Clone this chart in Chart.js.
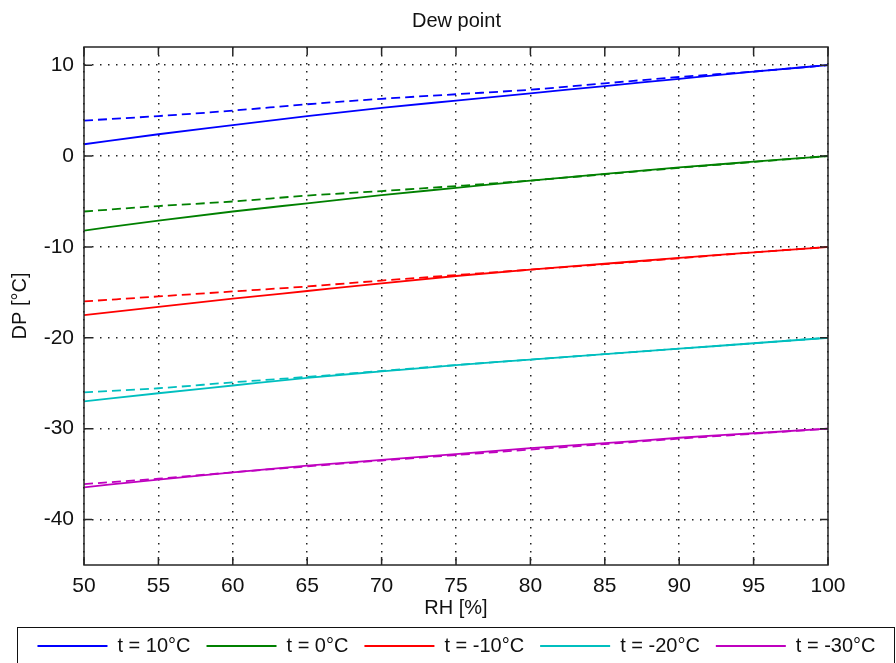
<!DOCTYPE html>
<html>
<head>
<meta charset="utf-8">
<title>Dew point</title>
<script src="https://cdn.jsdelivr.net/npm/chart.js@4.4.1/dist/chart.umd.min.js"></script>
<style>
  html, body { margin: 0; padding: 0; background: #fff; }
  #wrap { width: 896px; height: 663px; }
</style>
</head>
<body>
<div id="wrap"><canvas id="chart"></canvas></div>
<script>
// RH (%) along x, ticks of both axes
const rh = [50, 55, 60, 65, 70, 75, 80, 85, 90, 95, 100];
const xTicks = [50, 55, 60, 65, 70, 75, 80, 85, 90, 95, 100];
const yTicks = [-40, -30, -20, -10, 0, 10];

const labels = ['t = 10°C', 't = 0°C', 't = -10°C', 't = -20°C', 't = -30°C'];
const colors = ['#0000ff', '#008000', '#ff0000', '#00bfbf', '#bf00bf'];

// solid lines (dew point)
const dp10  = [1.3, 2.4, 3.4, 4.4, 5.3, 6.1, 6.9, 7.7, 8.5, 9.3, 10.0];
const dp0   = [-8.2, -7.1, -6.1, -5.2, -4.3, -3.5, -2.7, -1.95, -1.25, -0.62, 0];
const dpM10 = [-17.5, -16.6, -15.7, -14.85, -14.0, -13.2, -12.5, -11.85, -11.2, -10.6, -10.0];
const dpM20 = [-27.0, -26.1, -25.25, -24.4, -23.7, -23.0, -22.4, -21.8, -21.2, -20.6, -20.0];
const dpM30 = [-36.45, -35.6, -34.8, -34.06, -33.44, -32.8, -32.15, -31.6, -31.0, -30.5, -30.0];

// dashed lines (approximation)
const ap10  = [3.9, 4.4, 5.0, 5.7, 6.3, 6.8, 7.3, 8.0, 8.7, 9.3, 10.0];
const ap0   = [-6.1, -5.5, -5.0, -4.35, -3.85, -3.3, -2.7, -2.0, -1.3, -0.65, 0];
const apM10 = [-16.0, -15.45, -14.9, -14.35, -13.7, -13.1, -12.5, -11.9, -11.25, -10.6, -10.0];
const apM20 = [-26.0, -25.55, -24.9, -24.3, -23.65, -23.0, -22.4, -21.8, -21.2, -20.6, -20.0];
const apM30 = [-36.1, -35.5, -34.8, -34.15, -33.5, -32.9, -32.3, -31.7, -31.1, -30.55, -30.0];

const solid = [dp10, dp0, dpM10, dpM20, dpM30];
const dashed = [ap10, ap0, apM10, apM20, apM30];

const FONT = '"Liberation Sans", Arial, sans-serif';

const toXY = (arr) => arr.map((v, i) => ({ x: rh[i], y: v }));

const datasets = [];
solid.forEach((s, i) => {
  datasets.push({
    label: labels[i],
    data: toXY(s),
    borderColor: colors[i],
    backgroundColor: colors[i],
    borderWidth: 1.8,
    pointRadius: 0,
    cubicInterpolationMode: 'monotone',
  });
});
dashed.forEach((s, i) => {
  datasets.push({
    label: labels[i] + ' approx',
    approx: true,
    data: toXY(s),
    borderColor: colors[i],
    backgroundColor: colors[i],
    borderWidth: 1.8,
    borderDash: [9, 5],
    pointRadius: 0,
    cubicInterpolationMode: 'monotone',
  });
});

// box around the axes, inward ticks and the legend frame
const frame = {
  id: 'frame',
  afterDraw(chart) {
    const { ctx, chartArea: a, scales: { x, y } } = chart;
    ctx.save();
    ctx.strokeStyle = '#262626';
    ctx.lineWidth = 1.5;
    ctx.beginPath();
    xTicks.forEach(v => {
      const px = x.getPixelForValue(v);
      ctx.moveTo(px, a.bottom); ctx.lineTo(px, a.bottom - 8);
      ctx.moveTo(px, a.top); ctx.lineTo(px, a.top + 8);
    });
    yTicks.forEach(v => {
      const py = y.getPixelForValue(v);
      ctx.moveTo(a.left, py); ctx.lineTo(a.left + 8, py);
      ctx.moveTo(a.right, py); ctx.lineTo(a.right - 8, py);
    });
    ctx.stroke();
    ctx.strokeRect(a.left, a.top, a.right - a.left, a.bottom - a.top);

    const lg = chart.legend;
    ctx.lineWidth = 1;
    ctx.strokeStyle = '#111';
    ctx.strokeRect(17.5, lg.top + 7.5, 877, 60);
    ctx.restore();
  }
};

const gridLine = {
  color: '#222',
  lineWidth: 1.5,
  drawTicks: false,
};

new Chart(document.getElementById('chart'), {
  type: 'line',
  data: { datasets },
  plugins: [frame],
  options: {
    responsive: true,
    maintainAspectRatio: false,
    animation: false,
    layout: { padding: { left: 17, right: 0, top: 0, bottom: -3 } },
    plugins: {
      title: {
        display: true,
        text: 'Dew point',
        color: '#111',
        font: { family: FONT, size: 20, weight: 'normal' },
        padding: { top: 9, bottom: 14 },
      },
      legend: {
        position: 'bottom',
        labels: {
          boxWidth: 70,
          boxHeight: 2,
          padding: 16,
          color: '#111',
          font: { family: FONT, size: 20 },
          generateLabels: (chart) =>
            Chart.defaults.plugins.legend.labels.generateLabels(chart)
              .filter(l => !chart.data.datasets[l.datasetIndex].approx)
              .map(l => ({ ...l, lineWidth: 0, fillStyle: l.strokeStyle })),
        },
      },
      tooltip: { enabled: false },
    },
    scales: {
      x: {
        type: 'linear',
        min: 50,
        max: 100,
        afterBuildTicks: (s) => { s.ticks = xTicks.map(v => ({ value: v })); },
        afterFit: (s) => { s.height = 55; },
        grid: { ...gridLine },
        border: { display: false, dash: [1.5, 6.5] },
        ticks: { color: '#111', padding: 9, maxRotation: 0, font: { family: FONT, size: 21 } },
        title: {
          display: true,
          text: 'RH [%]',
          color: '#111',
          font: { family: FONT, size: 20 },
          padding: { top: 0, bottom: 0 },
        },
      },
      y: {
        min: -45,
        max: 12,
        afterBuildTicks: (s) => { s.ticks = yTicks.map(v => ({ value: v })); },
        afterFit: (s) => { s.width = 67; },
        grid: { ...gridLine },
        border: { display: false, dash: [1.5, 6.5] },
        ticks: { color: '#111', padding: 10, font: { family: FONT, size: 21 } },
        title: {
          display: true,
          text: 'DP [°C]',
          color: '#111',
          font: { family: FONT, size: 20 },
          padding: { top: -9, bottom: 0 },
        },
      },
      y2: {
        position: 'right',
        display: true,
        grid: { display: false },
        ticks: { display: false },
        border: { display: false },
        afterFit: (s) => { s.width = 68; },
      },
    },
  },
});
</script>
</body>
</html>
